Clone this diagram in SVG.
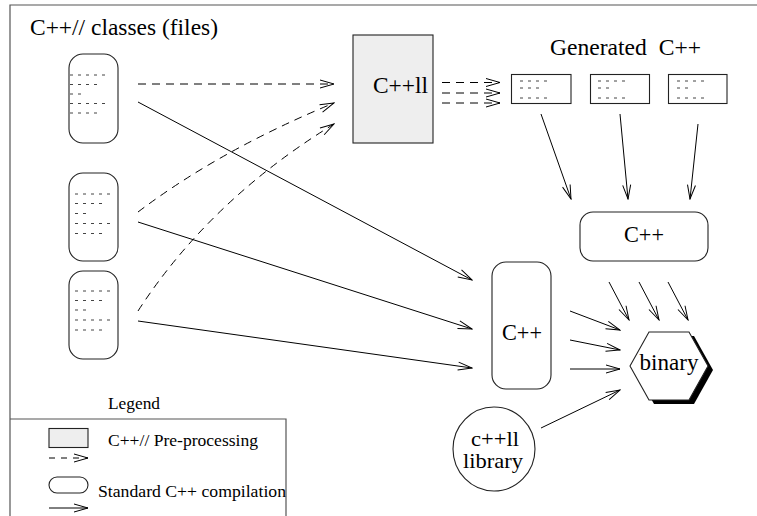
<svg xmlns="http://www.w3.org/2000/svg" width="757" height="516" viewBox="0 0 757 516">
  <style>
    text { font-family: "Liberation Serif", "DejaVu Serif", "Times New Roman", serif; fill: #000; }
    .big { font-size: 23px; }
    .lib { font-size: 21px; }
    .leg { font-size: 17.5px; }
    .node { fill: #fff; stroke: #222; stroke-width: 1.1; }
    .pre { fill: #eeeeee; stroke: #222; stroke-width: 1.1; }
    .dots { stroke: #444; stroke-width: 1; stroke-dasharray: 3 5; fill: none; }
    .conn { stroke: #000; stroke-width: 1; fill: none; marker-end: url(#arrow); }
    .dash { stroke-dasharray: 8 6; }
    .frame { stroke: #555; stroke-width: 1.2; fill: none; }
  </style>
  <defs>
    <marker id="arrow" markerUnits="userSpaceOnUse" viewBox="-15 -5 16 10" markerWidth="16" markerHeight="10" refX="0" refY="0" orient="auto">
      <path d="M-14,-4 L0,0 L-14,4" fill="none" stroke="#000" stroke-width="1"/>
    </marker>
  </defs>

  <rect width="757" height="516" fill="#fff"/>

  <!-- page frame -->
  <path class="frame" d="M10,516 V5 H757"/>

  <text class="big" font-family="Liberation Serif, serif" x="30" y="35" textLength="188" lengthAdjust="spacingAndGlyphs">C++// classes (files)</text>

  <!-- source files -->
  <g id="file1">
    <rect class="node" x="69" y="54" width="49" height="89" rx="14"/>
    <path class="dots" d="M70,75 h35 M70,84.5 h27 M70,94 h11 M70,103.5 h35 M70,113 h27"/>
  </g>
  <g id="file2">
    <rect class="node" x="69" y="173" width="49" height="88" rx="14"/>
    <path class="dots" d="M75,194 h35 M75,203.5 h27 M75,213.5 h11 M75,223.5 h35 M75,233.5 h27"/>
  </g>
  <g id="file3">
    <rect class="node" x="69" y="271" width="49" height="88" rx="14"/>
    <path class="dots" d="M75,291 h35 M75,300.5 h27 M75,310 h11 M75,320 h35 M75,330 h27"/>
  </g>

  <!-- preprocessor -->
  <g id="cppll">
    <rect class="pre" x="353" y="35" width="80" height="108"/>
    <text class="big" x="373" y="93" textLength="55" lengthAdjust="spacingAndGlyphs">C++ll</text>
  </g>

  <text class="big" x="550" y="55" textLength="151" lengthAdjust="spacingAndGlyphs">Generated&#160; C++</text>

  <!-- generated sources -->
  <g id="gen1">
    <rect class="node" x="511.5" y="74.5" width="59.5" height="29"/>
    <path class="dots" d="M520,81 h27 M520,88 h19 M520,98 h27"/>
  </g>
  <g id="gen2">
    <rect class="node" x="590.5" y="74.5" width="59" height="29"/>
    <path class="dots" d="M598,81 h27 M598,88 h11 M598,98 h27"/>
  </g>
  <g id="gen3">
    <rect class="node" x="668.5" y="74.5" width="58.5" height="29"/>
    <path class="dots" d="M677,81 h27 M677,88 h11 M677,98 h27"/>
  </g>

  <!-- compilers -->
  <g id="cpp-gen">
    <rect class="node" x="580" y="212" width="128" height="49" rx="13"/>
    <text class="big" x="644" y="242" text-anchor="middle" textLength="40" lengthAdjust="spacingAndGlyphs">C++</text>
  </g>
  <g id="cpp-main">
    <rect class="node" x="492" y="262" width="59" height="127" rx="14"/>
    <text class="big" x="522" y="340" text-anchor="middle" textLength="40" lengthAdjust="spacingAndGlyphs">C++</text>
  </g>

  <!-- runtime library -->
  <g id="library">
    <ellipse class="node" cx="494" cy="449" rx="41" ry="42"/>
    <text class="lib" x="495" y="446" text-anchor="middle" textLength="48" lengthAdjust="spacingAndGlyphs">c++ll</text>
    <text class="lib" x="493" y="468" text-anchor="middle" textLength="60" lengthAdjust="spacingAndGlyphs">library</text>
  </g>

  <!-- executable -->
  <g id="binary">
    <polygon points="635,370 654,336 694,336 713,370 694,404 654,404" fill="#000"/>
    <polygon class="node" points="630,366 649,332 689,332 708,366 689,400 649,400"/>
    <text class="big" x="669" y="370" text-anchor="middle" textLength="59" lengthAdjust="spacingAndGlyphs">binary</text>
  </g>

  <!-- connectors -->
  <g id="connectors">
    <!-- pre-processing -->
    <path class="conn dash" d="M138,84 H334"/>
    <path class="conn dash" d="M138,212 Q220,150 334,103"/>
    <path class="conn dash" d="M138,311 Q210,200 334,124"/>
    <path class="conn dash" d="M442,82.5 H500"/>
    <path class="conn dash" d="M442,93 H500"/>
    <path class="conn dash" d="M442,103 H500"/>
    <!-- compilation -->
    <path class="conn" d="M138,102 L472,280"/>
    <path class="conn" d="M138,222 L472,329"/>
    <path class="conn" d="M138,321 L472,368"/>
    <path class="conn" d="M541,114 L571,199"/>
    <path class="conn" d="M620,114 L628,199"/>
    <path class="conn" d="M698,124 L690,199"/>
    <!-- linking -->
    <path class="conn" d="M609,282 L629,320"/>
    <path class="conn" d="M639,282 L659,320"/>
    <path class="conn" d="M668,282 L688,320"/>
    <path class="conn" d="M570,311 L620,330"/>
    <path class="conn" d="M570,340 L620,350"/>
    <path class="conn" d="M570,369 L620,369"/>
    <path class="conn" d="M541,428 L620,390"/>
  </g>

  <!-- legend -->
  <g id="legend">
    <text class="leg" x="108" y="409" textLength="52" lengthAdjust="spacingAndGlyphs">Legend</text>
    <path class="frame" d="M10,419 H286 V516"/>
    <rect class="pre" x="49" y="428.5" width="39" height="19"/>
    <text class="leg" x="108" y="446" textLength="150" lengthAdjust="spacingAndGlyphs">C++// Pre-processing</text>
    <path class="conn" d="M49,458 H88" stroke-dasharray="6 6"/>
    <rect class="node" x="49" y="477" width="39" height="16" rx="8"/>
    <text class="leg" x="98" y="497" textLength="188" lengthAdjust="spacingAndGlyphs">Standard C++ compilation</text>
    <path class="conn" d="M49,508 H88"/>
  </g>
</svg>
